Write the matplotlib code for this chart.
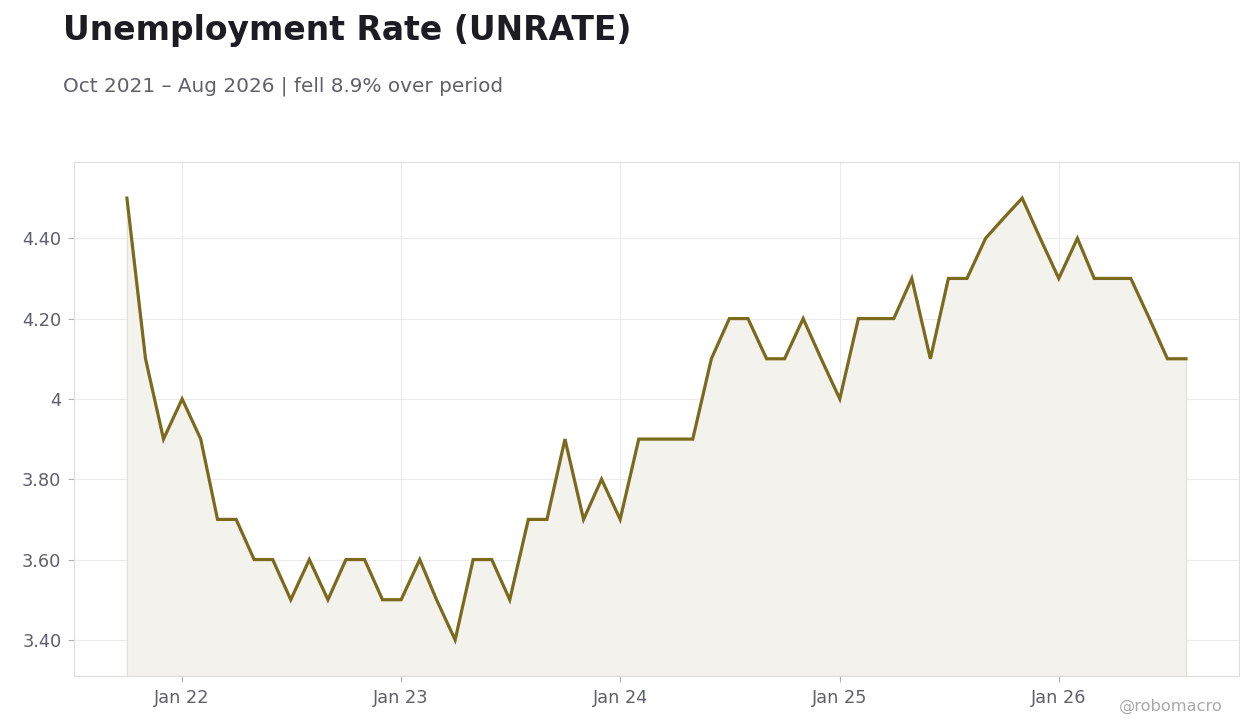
import matplotlib
matplotlib.use("Agg")
import matplotlib.pyplot as plt
import matplotlib.dates as mdates
import pandas as pd

plt.rcParams["font.family"] = ["DejaVu Sans"]

# monthly UNRATE, Oct 2021 .. Aug 2026
start = "2021-10-01"
rates = [4.5, 4.1, 3.9,
         4.0, 3.9, 3.7, 3.7, 3.6, 3.6, 3.5, 3.6, 3.5, 3.6, 3.6, 3.5,
         3.5, 3.6, 3.5, 3.4, 3.6, 3.6, 3.5, 3.7, 3.7, 3.9, 3.7, 3.8,
         3.7, 3.9, 3.9, 3.9, 3.9, 4.1, 4.2, 4.2, 4.1, 4.1, 4.2, 4.1,
         4.0, 4.2, 4.2, 4.2, 4.3, 4.1, 4.3, 4.3, 4.4, 4.45, 4.5, 4.4,
         4.3, 4.4, 4.3, 4.3, 4.3, 4.2, 4.1, 4.1]
dates = pd.date_range(start, periods=len(rates), freq="MS")

yticks = [3.4, 3.6, 3.8, 4.0, 4.2, 4.4]
ytick_labels = ["3.40", "3.60", "3.80", "4", "4.20", "4.40"]

line_col = "#7b6a1e"
grey = "#5f6069"

fig = plt.figure(figsize=(12.6, 7.28), dpi=100)
ax = fig.add_axes([0.0587, 0.0714, 0.9246, 0.7061])

ymin, ymax = 3.31, 4.59
ax.fill_between(dates, rates, ymin, facecolor="#f3f2ed", edgecolor="#e6e3d6", linewidth=1)
ax.plot(dates, rates, color=line_col, linewidth=2.3, solid_joinstyle="miter")

ax.set_ylim(ymin, ymax)
ax.set_yticks(yticks)
ax.set_yticklabels(ytick_labels)
ax.xaxis.set_major_locator(mdates.YearLocator(month=1))
ax.xaxis.set_major_formatter(mdates.DateFormatter("Jan %y"))

ax.grid(True, color="#ebebeb", linewidth=0.8)
ax.set_axisbelow(True)
for s in ax.spines.values():
    s.set_color("#dddddd")
ax.tick_params(colors="#b0b0b0", labelcolor=grey, labelsize=12.8, length=4, width=0.8)
ax.tick_params(axis="y", pad=5)
ax.tick_params(axis="x", pad=5)

fig.text(0.05, 0.945, "Unemployment Rate (UNRATE)", fontsize=23.8, fontweight="bold",
         color="#1c1c22", ha="left", va="baseline")
fig.text(0.05, 0.874, "Oct 2021 \u2013 Aug 2026 | fell 8.9% over period", fontsize=14.4,
         color=grey, ha="left", va="baseline")
fig.text(0.97, 0.024, "@robomacro", fontsize=11.7, color="#aaaaaa", ha="right", va="baseline")

fig.savefig("out.png", dpi=100)
